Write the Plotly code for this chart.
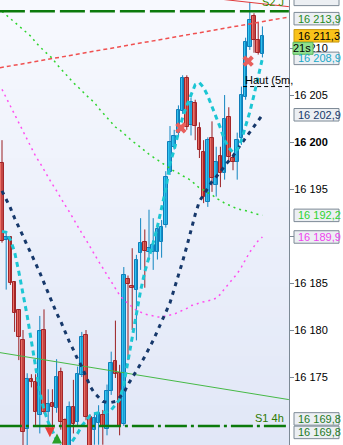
import plotly.graph_objects as go

# ---------------- data ----------------
idx = list(range(63))
opens = [16197.8,16189.6,16189.9,16185.1,16182.1,16178.9,16169.5,16174.8,16174.5,16171.0,
         16180.0,16171.3,16172.2,16171.7,16175.5,16170.4,16167.2,16171.8,16170.2,16175.2,
         16179.5,16170.8,16169.4,16170.1,16171.0,16169.5,16173.5,16176.7,16175.4,16170.0,
         16185.4,16184.7,16184.3,16188.2,16189.4,16188.3,16188.3,16188.3,16189.4,16191.2,
         16196.8,16199.5,16201.0,16203.3,16206.8,16201.8,16204.2,16201.5,16198.9,16193.6,
         16200.4,16195.4,16198.5,16196.7,16202.7,16198.3,16197.9,16200.4,16204.8,16210.1,
         16213.4,16210.9,16209.4]
highs = [16200.2,16190.4,16190.0,16185.2,16182.2,16180.0,16175.4,16175.3,16175.3,16181.5,
         16182.2,16173.7,16173.7,16176.9,16176.0,16170.6,16172.4,16174.7,16176.1,16179.8,
         16180.0,16171.0,16171.2,16172.0,16171.5,16174.2,16177.7,16181.0,16176.3,16186.7,
         16185.8,16188.7,16188.0,16191.9,16190.7,16192.8,16191.9,16191.2,16191.7,16196.9,
         16201.7,16201.3,16203.9,16207.1,16207.1,16204.7,16204.5,16202.1,16200.2,16200.5,
         16202.2,16199.5,16199.5,16205.0,16203.7,16198.6,16201.0,16205.9,16211.1,16214.9,
         16213.7,16212.7,16212.3]
lows = [16189.3,16184.3,16184.8,16179.8,16176.8,16167.2,16167.4,16173.9,16169.9,16169.0,
        16171.1,16169.4,16169.0,16171.2,16169.4,16166.7,16166.7,16169.0,16169.9,16175.0,
        16170.4,16167.0,16167.8,16167.8,16167.8,16168.8,16173.1,16174.9,16168.8,16169.8,
        16176.8,16180.0,16178.9,16186.4,16184.5,16187.5,16186.4,16187.5,16187.7,16190.9,
        16196.5,16199.2,16200.6,16203.0,16201.3,16200.7,16200.2,16198.3,16193.5,16193.1,
        16194.7,16194.2,16195.2,16196.0,16197.9,16197.0,16196.0,16199.7,16204.5,16209.8,
        16209.5,16209.3,16209.0]
closes = [16189.5,16189.9,16185.0,16181.8,16179.3,16169.2,16174.8,16174.5,16171.3,16179.9,
          16171.3,16172.1,16171.8,16175.0,16170.2,16167.2,16171.8,16170.0,16175.3,16179.3,
          16170.8,16167.4,16170.6,16171.2,16169.7,16173.5,16176.5,16175.3,16169.8,16185.9,
          16184.9,16184.5,16187.5,16189.3,16188.4,16188.7,16189.0,16190.7,16191.0,16196.3,
          16200.0,16200.6,16203.4,16206.8,16201.6,16204.3,16201.7,16199.2,16194.2,16200.2,
          16196.2,16197.9,16196.7,16202.4,16198.4,16197.9,16200.2,16205.0,16210.6,16213.0,
          16210.9,16209.5,16211.3]

ma_fast = [16190.5,16190.4,16189.6,16188.3,16186.2,16183.9,16181.5,16178.8,16176.2,16173.4,
           16171.5,16170.2,16169.3,16168.2,16167.6,16167.3,16167.7,16168.3,16169.0,16169.8,
           16170.3,16170.9,16171.1,16171.2,16171.2,16171.3,16171.5,16172.0,16172.6,16174.2,
           16176.8,16179.2,16181.6,16184.2,16186.2,16187.7,16189.3,16191.0,16193.0,16195.0,
           16197.7,16199.2,16201.0,16202.6,16203.9,16205.0,16206.1,16206.3,16205.8,16204.9,
           16203.8,16202.8,16201.5,16200.2,16199.4,16198.9,16199.2,16200.2,16201.7,16203.2,
           16205.0,16206.9,16208.9]
ma_slow = [16194.8,16193.9,16193.0,16191.9,16191.0,16190.0,16189.0,16188.1,16187.1,16186.1,
           16185.0,16183.9,16182.8,16181.8,16180.9,16179.8,16178.8,16177.9,16176.9,16176.1,
           16175.0,16174.0,16173.3,16172.8,16172.4,16172.3,16172.3,16172.4,16172.8,16173.3,
           16174.2,16174.9,16175.6,16176.4,16177.2,16178.0,16178.9,16179.9,16181.0,16181.9,
           16182.9,16184.3,16185.8,16187.3,16188.9,16190.7,16192.3,16193.7,16194.4,16195.1,
           16195.8,16196.3,16196.8,16197.5,16198.0,16198.5,16199.2,16199.8,16200.4,16201.1,
           16201.7,16202.3,16202.9]
ma_green = [16213.9,16213.5,16213.1,16212.7,16212.3,16211.9,16211.6,16211.2,16210.6,16210.1,
            16209.7,16209.3,16208.9,16208.3,16207.8,16207.2,16206.7,16206.3,16205.9,16205.4,
            16205.0,16204.6,16204.2,16203.6,16203.1,16202.7,16202.1,16201.6,16201.3,16200.9,
            16200.4,16200.1,16199.8,16199.4,16199.0,16198.7,16198.4,16198.1,16197.8,16197.5,
            16197.2,16196.9,16196.7,16196.4,16196.2,16195.9,16195.5,16195.1,16194.9,16194.6,
            16194.4,16194.0,16193.8,16193.5,16193.3,16193.1,16192.9,16192.8,16192.7,16192.6,
            16192.4,16192.3,16192.2]
ma_magenta = [16205.6,16204.7,16203.8,16202.9,16202.0,16201.1,16200.2,16199.3,16198.5,16197.8,
              16197.0,16196.3,16195.5,16194.8,16194.0,16193.3,16192.6,16191.8,16191.1,16190.3,
              16189.6,16188.8,16188.1,16187.3,16186.6,16185.9,16185.1,16184.4,16183.7,16183.2,
              16182.8,16182.5,16182.1,16181.9,16181.7,16181.6,16181.5,16181.4,16181.4,16181.5,
              16181.6,16181.7,16181.9,16182.1,16182.3,16182.6,16182.7,16182.9,16183.0,16183.1,
              16183.2,16183.4,16183.8,16184.4,16184.9,16185.4,16186.0,16186.7,16187.5,16188.3,
              16188.9,16189.5,16189.9]

# straight levels / trend lines (x in candle index units)
trend_red_x = [-0.5, 68.3];   trend_red_y = [16207.9, 16213.3]
trend_green_x = [-0.5, 68.3]; trend_green_y = [16177.6, 16172.6]
top_red_x = [50, 68.3];       top_red_y = [16215.3, 16214.4]
level_x = [-0.5, 68.3]
s2_level = 16213.9
s1_level = 16169.8
haut_x = [57.4, 68.3]; haut_level = 16205.9
last_price = 16211.3

cross_x = [42.6, 58.6]; cross_y = [16201.5, 16208.6]
sell_x = [11.4]; sell_y = [16168.6]
buy_x = [13.1];  buy_y = [16169.0]

tick_vals = [16175, 16180, 16185, 16190, 16195, 16200, 16205, 16210]
tick_text = ["16 175", "16 180", "16 185", "", "16 195", "<b>16 200</b>", "16 205", "16 210"]

# ---------------- figure ----------------
W, H = 343, 445
R = 54
PW = W - R
YMIN, YMAX = 16167.77, 16215.11
UPP = (YMAX - YMIN) / H  # units per pixel
FONT = "Liberation Sans, Arial, sans-serif"

fig = go.Figure()

up = [i for i in idx if closes[i] >= opens[i]]
dn = [i for i in idx if closes[i] < opens[i]]

def wick(ids):
    xs, ys = [], []
    for i in ids:
        xs += [i, i, None]
        ys += [lows[i], highs[i], None]
    return xs, ys

for ids, col in ((up, "#1185c0"), (dn, "#9a1f22")):
    wx, wy = wick(ids)
    fig.add_trace(go.Scatter(x=wx, y=wy, mode="lines", line=dict(color=col, width=1),
                             hoverinfo="skip", showlegend=False))

for ids, fill, edge in ((up, "#33c6f2", "#0f7db8"), (dn, "#ec6f66", "#a3262a")):
    fig.add_trace(go.Bar(
        x=ids,
        y=[max(abs(closes[i] - opens[i]), 0.2) for i in ids],
        base=[min(opens[i], closes[i]) for i in ids],
        width=0.82,
        marker=dict(color=fill, line=dict(color=edge, width=1)),
        showlegend=False, hoverinfo="skip"))

def line(x, y, color, width, dash="solid"):
    fig.add_trace(go.Scatter(x=x, y=y, mode="lines",
                             line=dict(color=color, width=width, dash=dash),
                             hoverinfo="skip", showlegend=False))

line(trend_green_x, trend_green_y, "#46b946", 1)
line(top_red_x, top_red_y, "#e03a3a", 1)
line(trend_red_x, trend_red_y, "#f05050", 1.5, "4px,3px")
line(idx, ma_green, "#2fd42f", 1.5, "2px,4px")
line(idx, ma_magenta, "#ff4ef0", 1.5, "2px,4px")
line(idx, ma_slow, "#16386b", 3, "4px,5px")
line(idx, ma_fast, "#1cc6d4", 3, "5px,4px")
line(level_x, [s2_level] * 2, "#0b7a0b", 2.5, "25px,5px")
line(level_x, [s1_level] * 2, "#0b7a0b", 2.5, "22px,4px,3px,4px")
line(haut_x, [haut_level] * 2, "#000000", 1, "4px,3px")

fig.add_trace(go.Scatter(x=cross_x, y=cross_y, mode="markers",
                         marker=dict(symbol="x", size=10, color="#e85f5c", line=dict(width=0)),
                         showlegend=False, hoverinfo="skip"))
fig.add_trace(go.Scatter(x=sell_x, y=sell_y, mode="markers",
                         marker=dict(symbol="arrow-down", size=10, color="#e8403a", line=dict(width=0)),
                         showlegend=False, hoverinfo="skip"))
fig.add_trace(go.Scatter(x=buy_x, y=buy_y, mode="markers",
                         marker=dict(symbol="arrow-up", size=10, color="#28a028", line=dict(width=0)),
                         showlegend=False, hoverinfo="skip"))

# background gradient bands
n = 45
top = (247, 249, 254); bot = (225, 231, 247)
for k in range(n):
    t = k / (n - 1)
    c = tuple(round(top[j] + (bot[j] - top[j]) * t) for j in range(3))
    fig.add_shape(type="rect", xref="paper", yref="paper", x0=0, x1=1,
                  y0=1 - (k + 1) / n - 0.002, y1=1 - k / n,
                  fillcolor="rgb(%d,%d,%d)" % c, line_width=0, layer="below")

# price label boxes on the right axis
def px(xp):
    return xp / PW

def box(text, center, fg, bg="#eceff3", border="#7d8a96", x0=294, x1=339, h=12.5):
    fig.add_shape(type="rect", xref="paper", yref="y", x0=px(x0), x1=px(x1),
                  y0=center - h / 2 * UPP, y1=center + h / 2 * UPP,
                  fillcolor=bg, line=dict(color=border, width=1), layer="above")
    fig.add_annotation(x=px(x0 + 2), xref="paper", y=center, yref="y", text=text,
                       showarrow=False, xanchor="left", yanchor="middle",
                       font=dict(size=11, color=fg, family=FONT))

box("16 213,8", s2_level + 12 * UPP, "#1f8a1f")
box("16 213,9", s2_level - 7.3 * UPP, "#1f8a1f")
box("16 211,3", last_price, "#000000", bg="#f9c21a", border="#c99a10")
box("16 208,9", ma_fast[-1], "#18a8c8")
box("16 202,9", ma_slow[-1], "#16386b")
box("16 192,2", ma_green[-1], "#2fd42f")
box("16 189,9", ma_magenta[-1], "#ee44ee")
box("16 169,8", s1_level + 7 * UPP, "#1f7a1f")
box("16 169,8", s1_level - 6.5 * UPP, "#1f7a1f")
# countdown badge
fig.add_shape(type="rect", xref="paper", yref="y", x0=px(293), x1=px(313),
              y0=last_price - 18.5 * UPP, y1=last_price - 6.5 * UPP,
              fillcolor="#90e090", line=dict(color="#5ab85a", width=1), layer="above")
fig.add_annotation(x=px(302), xref="paper", y=last_price - 12.5 * UPP, yref="y", text="21s",
                   showarrow=False, xanchor="center", yanchor="middle",
                   font=dict(size=11, color="#000000", family=FONT))

# level captions
fig.add_annotation(x=64.6, y=s2_level + 9.5 * UPP, text="S2 J", showarrow=False,
                   xanchor="center", yanchor="middle", font=dict(size=11, color="#3a8a00", family=FONT))
fig.add_annotation(x=63.7, y=s1_level + 7.5 * UPP, text="S1 4h", showarrow=False,
                   xanchor="center", yanchor="middle", font=dict(size=11, color="#2f7a00", family=FONT))
fig.add_annotation(x=haut_x[0], y=haut_level + 7 * UPP, text="Haut (5m,", showarrow=False,
                   xanchor="left", yanchor="middle", font=dict(size=11, color="#000000", family=FONT))

fig.update_layout(
    width=W, height=H,
    margin=dict(l=0, r=R, t=0, b=0),
    paper_bgcolor="#ffffff", plot_bgcolor="#eef2fb",
    barmode="overlay", bargap=0, showlegend=False,
    xaxis=dict(range=[-0.476, 68.33], visible=False, fixedrange=True),
    yaxis=dict(range=[YMIN, YMAX], side="right", showgrid=False, zeroline=False,
               tickvals=tick_vals, ticktext=tick_text, ticks="outside", ticklen=4,
               ticklabelstandoff=-2,
               tickcolor="#7d8a96", showline=True, linecolor="#7d8a96", linewidth=1,
               tickfont=dict(size=11, color="#000000", family=FONT), fixedrange=True),
)

fig.write_html("out.html")
